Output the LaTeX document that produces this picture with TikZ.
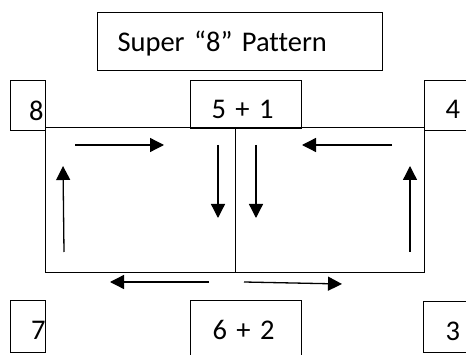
\documentclass[tikz,border=0pt]{standalone}
\usepackage{fontspec}
\setmainfont{Carlito}[Ligatures=NoCommon]
\usetikzlibrary{arrows.meta}
\tikzset{
	box/.style={draw, line width=1pt, inner ysep=0pt, anchor=north west, font=\fontsize{28.5}{32}\selectfont},
	mv/.style={line width=1.3pt, -{Triangle[length=14pt,width=14pt]}}
}
\begin{document}
\begin{tikzpicture}[x=1pt,y=-1pt]
		\useasboundingbox (0,0) rectangle (466,355);
		\clip (0,0) rectangle (466,355);
		\node [box, inner xsep=20pt, text width=245pt, align=left, text height=39pt, text depth=19pt] (title) at (97,12) {Super “8” Pattern};
		\node [box, inner xsep=2pt, text width=31pt, align=right, text height=40pt, text depth=10pt] (n8) at (10,80) {8};
		\node [box, inner xsep=21pt, text width=69pt, align=left, text height=38pt, text depth=10pt] (n51) at (190,80) {5 + 1};
		\node [box, inner xsep=21pt, text width=40pt, align=left, text height=38pt, text depth=12pt] (n4) at (424,80) {4};
		\node [box, inner xsep=0pt, text width=35pt, align=right, text height=39pt, text depth=13pt] (n7) at (10,300) {7};
		\node [box, inner xsep=22pt, text width=67pt, align=left, text height=39pt, text depth=31pt] (n62) at (190,300) {6 + 2};
		\node [box, inner xsep=22pt, text width=40pt, align=left, text height=39pt, text depth=12pt] (n3) at (423,301) {3};
		\draw [line width=1pt] (45,128) rectangle (424,273);
		\draw [line width=1pt] (235.5,128) -- (235.5,273);
		\draw [mv] (75,145) -- (164,145);
		\draw [mv] (392,145) -- (302,145);
		\draw [mv] (218,145) -- (218,218);
		\draw [mv] (256,145) -- (256,218);
		\draw [mv] (64,252) -- (63,166);
		\draw [mv] (410,252) -- (410,166);
		\draw [mv] (209,282) -- (110,282);
		\draw [mv] (244,282) -- (342,284);
		\end{tikzpicture}
\end{document}
